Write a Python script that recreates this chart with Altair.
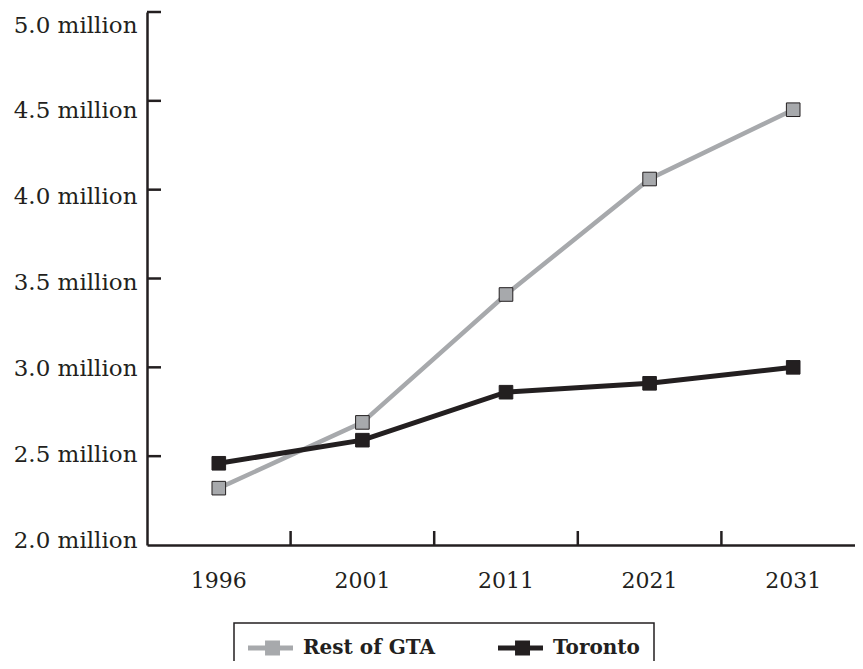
import altair as alt
import pandas as pd

years = ["1996", "2001", "2011", "2021", "2031"]
rest_of_gta = [2.32, 2.69, 3.41, 4.06, 4.45]
toronto = [2.46, 2.59, 2.86, 2.91, 3.00]
series_names = ["Rest of GTA", "Toronto"]
series_colors = ["#a7a9ac", "#231f20"]
y_ticks = [2.0, 2.5, 3.0, 3.5, 4.0, 4.5, 5.0]

rows = []
for name, vals in zip(series_names, [rest_of_gta, toronto]):
    for yr, v in zip(years, vals):
        rows.append({"year": yr, "value": v, "series": name})
df = pd.DataFrame(rows)
ytick_df = pd.DataFrame({"value": [t for t in y_ticks if t > 2.0]})
xtick_df = pd.DataFrame({"year": years[1:]})

W, H = 708, 533
XR = 718
INK = "#231f20"
FONT = "DejaVu Serif"

xscale = alt.Scale(type="band", domain=years, paddingInner=0, paddingOuter=0, range=[0, XR])
yscale = alt.Scale(domain=[2.0, 5.0], nice=False, zero=False)

x_axis = alt.Axis(title=None, ticks=False, labelFont=FONT, labelFontSize=22,
                  labelColor=INK, labelPadding=25, domainColor=INK,
                  domainWidth=2.5, labelAngle=0, grid=False)
y_axis = alt.Axis(title=None, ticks=False, values=y_ticks, labelFont=FONT,
                  labelFontSize=23, labelColor=INK, labelPadding=10,
                  domainColor=INK, domainWidth=2.5, grid=False,
                  labelExpr="format(datum.value, '.1f') + ' million'",
                  labelOffset={"expr": "-5 + (datum.value - 2) * 6"})

base = alt.Chart(df)

line_layers = []
for i, (name, col) in enumerate(zip(series_names, series_colors)):
    enc = dict(
        x=alt.X("year:N", scale=xscale, bandPosition=0.5),
        y=alt.Y("value:Q", scale=yscale),
    )
    if i == 0:
        enc = dict(
            x=alt.X("year:N", scale=xscale, axis=x_axis, bandPosition=0.5),
            y=alt.Y("value:Q", scale=yscale, axis=y_axis),
        )
    line_layers.append(
        base.transform_filter(alt.datum.series == name)
        .mark_line(strokeWidth=4.5 if i == 0 else 5, color=col)
        .encode(**enc)
    )

legend_path = ("M-1,-0.23 H3.09 V0.23 H-1 Z "
               "M0.55,-0.68 H1.91 V0.68 H0.55 Z")

points = base.mark_point(shape="square", filled=True, size=185, stroke=INK,
                         strokeWidth=1, opacity=1).encode(
    x=alt.X("year:N", scale=xscale, bandPosition=0.5),
    y=alt.Y("value:Q", scale=yscale),
    fill=alt.Fill("series:N", scale=alt.Scale(domain=series_names, range=series_colors),
                  legend=alt.Legend(title=None, orient="none", direction="horizontal",
                                    legendX=87, legendY=611, padding=14,
                                    strokeColor=INK, fillColor="white",
                                    symbolType=legend_path, symbolSize=484,
                                    symbolStrokeWidth=0, symbolOpacity=1,
                                    labelFont=FONT, labelFontWeight="bold",
                                    labelFontSize=20, labelColor=INK,
                                    labelOffset=33)),
)

yticks = alt.Chart(ytick_df).mark_rule(color=INK, strokeWidth=2.5).encode(
    y=alt.Y("value:Q", scale=yscale),
    x=alt.value(0), x2=alt.value(14),
)

xticks = alt.Chart(xtick_df).mark_rule(color=INK, strokeWidth=2.5).encode(
    x=alt.X("year:N", scale=xscale, bandPosition=0),
    y=alt.value(H - 14), y2=alt.value(H),
)

chart = alt.layer(*line_layers, yticks, xticks, points).properties(
    width=W, height=H,
    background="white",
    autosize=alt.AutoSizeParams(type="none"),
    padding={"left": 139, "top": 4, "right": 0, "bottom": 116},
).configure_view(stroke=None).configure_legend(
    strokeWidth=1.5, columnPadding=62, cornerRadius=0
)

chart.save("out.html", embed_options={"renderer": "svg", "actions": False})
